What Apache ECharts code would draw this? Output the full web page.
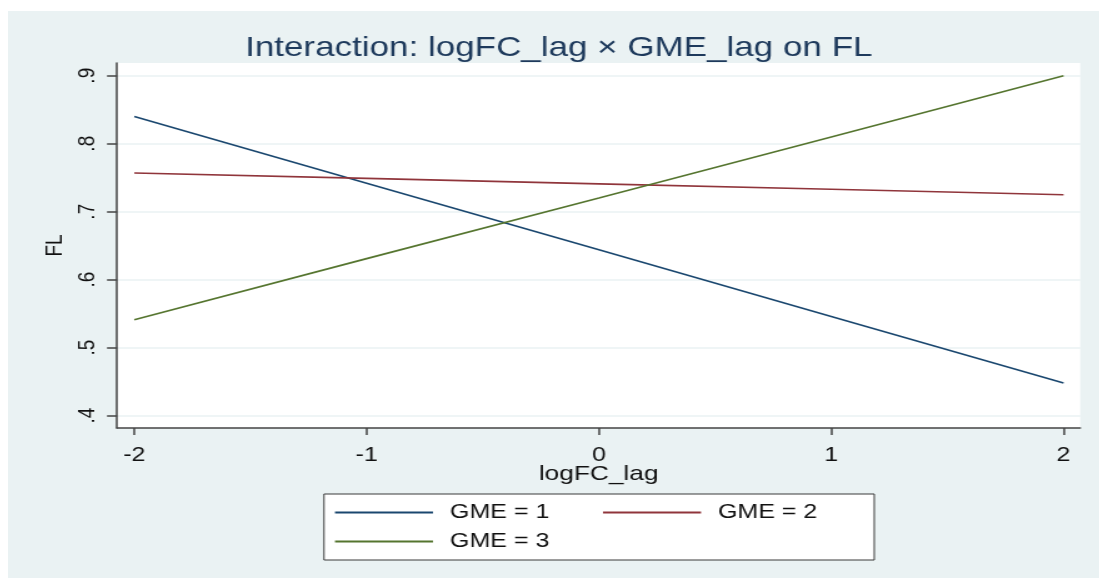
<!DOCTYPE html>
<html>
<head>
<meta charset="utf-8">
<script src="https://cdn.jsdelivr.net/npm/echarts@6/dist/echarts.min.js"></script>
<style>
  html, body { margin: 0; padding: 0; background: #ffffff; overflow: hidden; }
  /* graph region, drawn narrow and widened horizontally */
  #chart {
    position: absolute; left: 8px; top: 11px;
    width: 872.8px; height: 567px;
    transform: scaleX(1.25); transform-origin: 0 0;
  }
</style>
</head>
<body>
<div id="chart"></div>
<script>
// Predicted FL at each logFC_lag value, one series per GME level
const xValues = [-2, -1, 0, 1, 2];
const gme1 = [0.840, 0.742, 0.644, 0.546, 0.448];
const gme2 = [0.757, 0.749, 0.741, 0.733, 0.725];
const gme3 = [0.541, 0.631, 0.720, 0.810, 0.900];
const seriesNames = ['GME = 1', 'GME = 2', 'GME = 3'];
const seriesColors = ['#1a476f', '#90353b', '#55752f'];
const yTicks = [0.4, 0.5, 0.6, 0.7, 0.8, 0.9];
const xTicks = [-2, -1, 0, 1, 2];

const font = '"Liberation Sans", Arial, sans-serif';
const toPairs = ys => xValues.map((x, i) => [x, ys[i]]);

const chart = echarts.init(document.getElementById('chart'), null, { renderer: 'canvas' });
chart.setOption({
  animation: false,
  backgroundColor: '#eaf2f3',
  title: {
    text: 'Interaction: logFC_lag × GME_lag on FL',
    left: 435.6, top: 18.5, textAlign: 'center',
    textStyle: { fontFamily: font, fontSize: 28, fontWeight: 'normal', color: '#1e3a5c' }
  },
  grid: {
    left: 87.2, top: 52, right: 15.2, bottom: 150,
    show: true, backgroundColor: '#ffffff', borderWidth: 0
  },
  legend: {
    data: seriesNames,
    orient: 'horizontal',
    left: 252.8, top: 483, width: 420,
    padding: [8.5, 11.6, 8.5, 8.8],
    backgroundColor: '#ffffff', borderColor: '#3a3a3a', borderWidth: 1,
    icon: 'rect',
    itemWidth: 78.4, itemHeight: 2, itemGap: 9,
    textStyle: { fontFamily: font, fontSize: 20, color: '#111', padding: [0, 0, 0, 8.6], width: 113.4, lineHeight: 19 }
  },
  xAxis: {
    type: 'value', min: -2.0745, max: 2.072,
    name: 'logFC_lag', nameLocation: 'middle', nameGap: 36, nameMoveOverlap: false,
    nameTextStyle: { fontFamily: font, fontSize: 21, color: '#111' },
    axisLine: { show: true, lineStyle: { color: '#444', width: 1.5 } },
    axisTick: { show: true, length: 7, customValues: xTicks, lineStyle: { color: '#444', width: 1.5 } },
    axisLabel: { customValues: xTicks, margin: 17, fontFamily: font, fontSize: 20, color: '#111', formatter: v => String(v) },
    splitLine: { show: false }
  },
  yAxis: {
    type: 'value', min: 0.3819, max: 0.9187,
    name: 'FL', nameLocation: 'middle', nameGap: 39.6, nameRotate: 90, nameMoveOverlap: false,
    nameTextStyle: { fontFamily: font, fontSize: 19, color: '#111' },
    axisLine: { show: true, onZero: false, lineStyle: { color: '#444', width: 1.5 } },
    axisTick: { show: true, length: 8, customValues: yTicks, lineStyle: { color: '#444', width: 1.5 } },
    axisLabel: {
      customValues: yTicks, rotate: 90, margin: 14.2,
      fontFamily: font, fontSize: 19, color: '#111',
      formatter: v => '.' + Math.round(v * 10)
    },
    splitLine: { show: true, lineStyle: { color: '#eaf2f3', width: 1.5 } }
  },
  series: [gme1, gme2, gme3].map((ys, i) => ({
    name: seriesNames[i],
    type: 'line',
    data: toPairs(ys),
    symbol: 'none',
    color: seriesColors[i],
    lineStyle: { color: seriesColors[i], width: 1.6 }
  }))
});
</script>
</body>
</html>
